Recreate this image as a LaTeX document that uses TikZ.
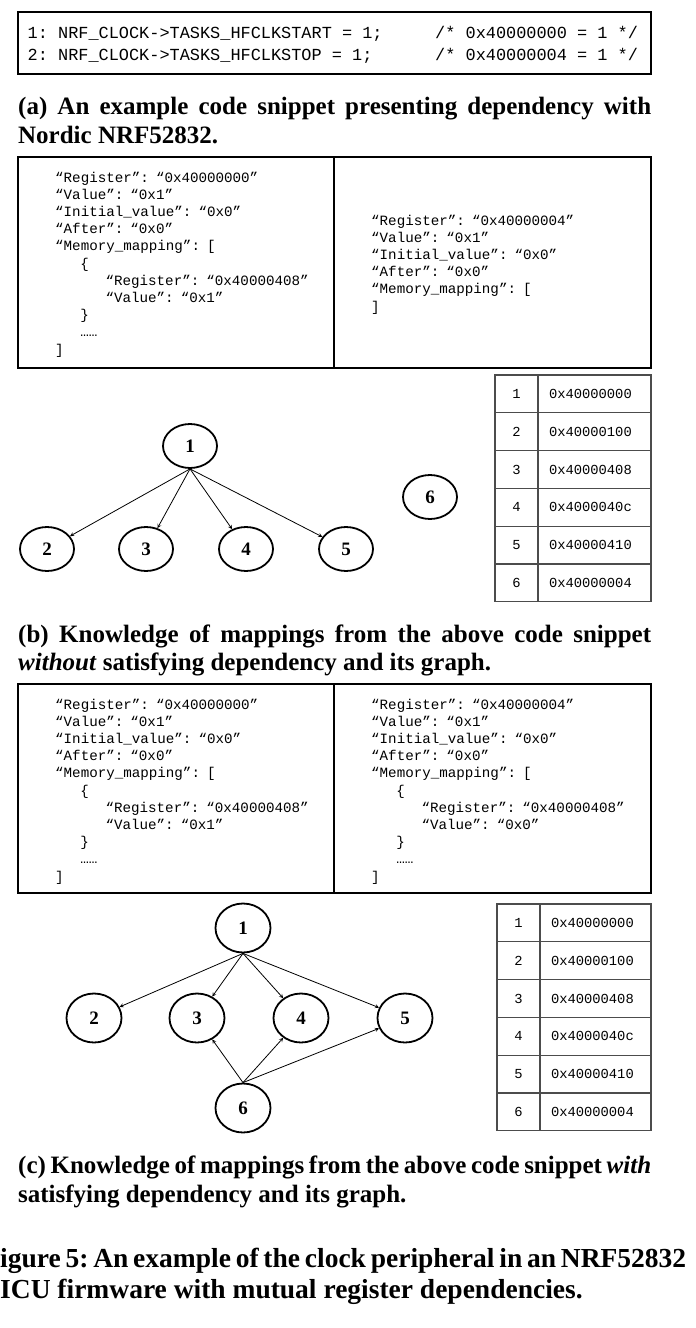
\documentclass[tikz,border=0pt]{standalone}
\usepackage{fontspec}
\setmainfont{Liberation Serif}
\setmonofont{Liberation Mono}
\usetikzlibrary{shapes.geometric}

\newcommand{\capline}[2]{\makebox[#1][s]{#2}}

\tikzset{
	frame/.style={draw, line width=2pt},
	code/.style={anchor=base west, inner sep=0pt, font=\ttfamily\fontsize{16.9}{22}\selectfont},
	json/.style={anchor=base west, inner sep=0pt, text width=280pt, align=left, font=\ttfamily\fontsize{14.2}{17.2}\selectfont},
	reg/.style={ellipse, draw, line width=1.8pt, inner sep=0pt, font=\bfseries\fontsize{19}{19}\selectfont},
	dep/.style={->, >=stealth, line width=0.8pt},
	idx/.style={draw=black!70, line width=1.3pt, minimum width=43pt, minimum height=37.8pt, inner sep=0pt, font=\ttfamily\fontsize{13.8}{14}\selectfont},
	addr/.style={draw=black!70, line width=1.3pt, minimum height=37.8pt, text width=91pt, align=left, inner xsep=11pt, inner ysep=0pt, font=\ttfamily\fontsize{13.8}{14}\selectfont},
	subcap/.style={anchor=base west, inner sep=0pt, font=\bfseries\fontsize{25}{29}\selectfont},
	figcap/.style={anchor=base west, inner sep=0pt, font=\bfseries\frenchspacing\fontsize{27.5}{31}\selectfont}
}

\begin{document}
\begin{tikzpicture}[x=1pt, y=-1pt]
\useasboundingbox (0,0) rectangle (696,1328);

% (a) code snippet
\node (snip) at (334.5,43) [frame, minimum width=633pt, minimum height=62pt] {};
\node (line1) at (27.5,38) [code] {1: NRF\_CLOCK->TASKS\_HFCLKSTART = 1;};
\node (line2) at (27.5,60) [code] {2: NRF\_CLOCK->TASKS\_HFCLKSTOP = 1;};
\node (cmt1) at (435,38) [code] {/* 0x40000000 = 1 */};
\node (cmt2) at (435,60) [code] {/* 0x40000004 = 1 */};

\node (capa1) at (18,114) [subcap] {\capline{633pt}{(a) An example code snippet presenting dependency with}};
\node (capa2) at (18,143) [subcap] {Nordic NRF52832.};

% (b) mappings without dependency
\node (mapb) at (334.5,262.5) [frame, minimum width=633pt, minimum height=211pt] {};
\draw [line width=2pt] (mapb.north) ++(-0.5,0) coordinate (bt) -- (bt |- mapb.south);
\node (jsonb1) at (55,182) [json] {%
“Register”: “0x40000000”\\
“Value”: “0x1”\\
“Initial\_value”: “0x0”\\
“After”: “0x0”\\
“Memory\_mapping”: [\\
\hspace*{25.2pt}\{\\
\hspace*{50.4pt}“Register”: “0x40000408”\\
\hspace*{50.4pt}“Value”: “0x1”\\
\hspace*{25.2pt}\}\\
\hspace*{25.2pt}……\\
]};
\node (jsonb2) at (371,225) [json] {%
“Register”: “0x40000004”\\
“Value”: “0x1”\\
“Initial\_value”: “0x0”\\
“After”: “0x0”\\
“Memory\_mapping”: [\\
]};

\node (b1) at (190,446) [reg, minimum width=54pt, minimum height=44pt] {1};
\node (b2) at (47,549) [reg, minimum width=54pt, minimum height=44pt] {2};
\node (b3) at (146,549) [reg, minimum width=54pt, minimum height=44pt] {3};
\node (b4) at (246,549) [reg, minimum width=54pt, minimum height=44pt] {4};
\node (b5) at (346,549) [reg, minimum width=54pt, minimum height=44pt] {5};
\node (b6) at (430,497) [reg, minimum width=54pt, minimum height=44pt] {6};
\foreach \t in {2,3,4,5}
	\draw [dep] (b1.south) -- (b\t);

\foreach \i/\a in {1/0x40000000,2/0x40000100,3/0x40000408,4/0x4000040c,5/0x40000410,6/0x40000004} {
	\node (bi\i) at (516.5,375+37.8*\i-18.9) [idx] {\i};
	\node (ba\i) at (594.5,375+37.8*\i-18.9) [addr] {\a};
}

\node (capb1) at (18,642) [subcap] {\capline{633pt}{(b) Knowledge of mappings from the above code snippet}};
\node (capb2) at (18,670) [subcap] {\textit{without} satisfying dependency and its graph.};

% (c) mappings with dependency
\node (mapc) at (334.5,788.5) [frame, minimum width=633pt, minimum height=209pt] {};
\draw [line width=2pt] (mapc.north) ++(-0.5,0) coordinate (ct) -- (ct |- mapc.south);
\node (jsonc1) at (55,709) [json] {%
“Register”: “0x40000000”\\
“Value”: “0x1”\\
“Initial\_value”: “0x0”\\
“After”: “0x0”\\
“Memory\_mapping”: [\\
\hspace*{25.2pt}\{\\
\hspace*{50.4pt}“Register”: “0x40000408”\\
\hspace*{50.4pt}“Value”: “0x1”\\
\hspace*{25.2pt}\}\\
\hspace*{25.2pt}……\\
]};
\node (jsonc2) at (371,709) [json] {%
“Register”: “0x40000004”\\
“Value”: “0x1”\\
“Initial\_value”: “0x0”\\
“After”: “0x0”\\
“Memory\_mapping”: [\\
\hspace*{25.2pt}\{\\
\hspace*{50.4pt}“Register”: “0x40000408”\\
\hspace*{50.4pt}“Value”: “0x0”\\
\hspace*{25.2pt}\}\\
\hspace*{25.2pt}……\\
]};

\node (c1) at (243,928) [reg, minimum width=55pt, minimum height=49pt] {1};
\node (c2) at (94,1018) [reg, minimum width=55pt, minimum height=49pt] {2};
\node (c3) at (197,1018) [reg, minimum width=55pt, minimum height=49pt] {3};
\node (c4) at (301,1018) [reg, minimum width=55pt, minimum height=49pt] {4};
\node (c5) at (405,1018) [reg, minimum width=55pt, minimum height=49pt] {5};
\node (c6) at (243,1108) [reg, minimum width=55pt, minimum height=49pt] {6};
\foreach \t in {2,3,4,5}
	\draw [dep] (c1.south) -- (c\t);
\foreach \t in {3,4,5}
	\draw [dep] (c6.north) -- (c\t);

\foreach \i/\a in {1/0x40000000,2/0x40000100,3/0x40000408,4/0x4000040c,5/0x40000410,6/0x40000004} {
	\node (ci\i) at (518.5,904+37.8*\i-18.9) [idx] {\i};
	\node (ca\i) at (595.5,904+37.8*\i-18.9) [addr, text width=89pt] {\a};
}

\node (capc1) at (18,1173) [subcap] {\capline{633pt}{(c) Knowledge of mappings from the above code snippet \textit{with}}};
\node (capc2) at (18,1202) [subcap] {satisfying dependency and its graph.};

% figure caption
\node (fig1) at (0,1267) [figcap] {\capline{686pt}{igure 5: An example of the clock peripheral in an NRF52832}};
\node (fig2) at (0,1298) [figcap] {ICU firmware with mutual register dependencies.};

\end{tikzpicture}
\end{document}
